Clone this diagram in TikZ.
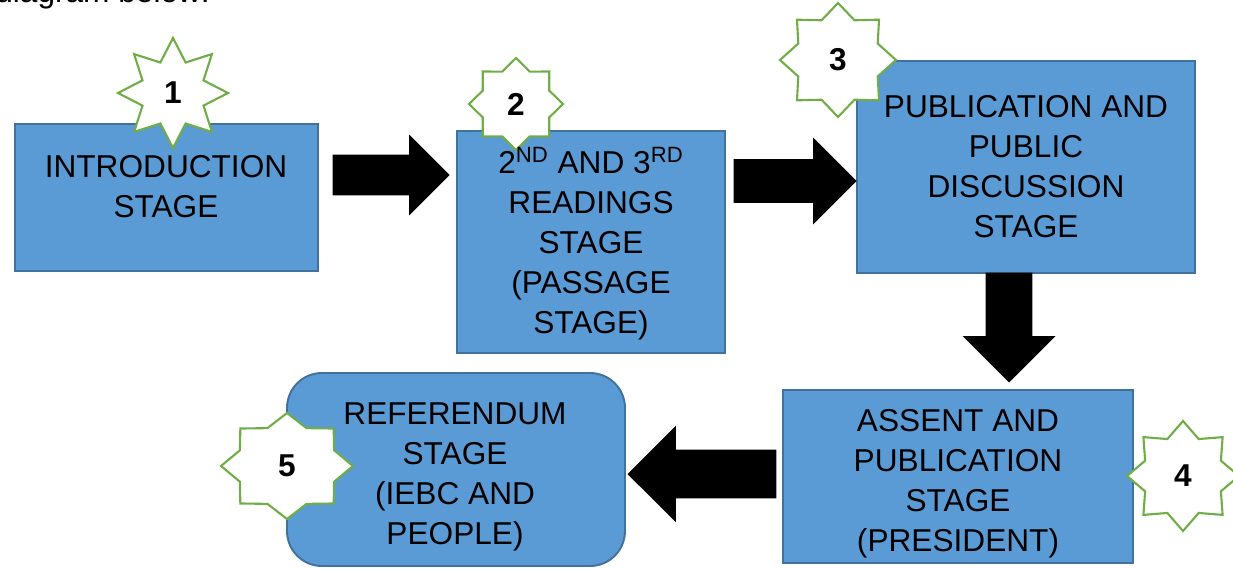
\documentclass[tikz,border=0pt]{standalone}
\usepackage{fontspec}
\setmainfont{Liberation Sans}
\usetikzlibrary{shapes.arrows,fit}
\definecolor{stageblue}{HTML}{5B9BD5}
\definecolor{stageline}{HTML}{41719C}
\definecolor{stargreen}{HTML}{70AD47}

\begin{document}
\begin{tikzpicture}[x=0.02cm, y=-0.02cm,
    stagebox/.style={draw=stageline, fill=stageblue, line width=1.1pt, inner sep=0pt},
    stagetext/.style={align=center, inner sep=0pt, font=\fontsize{18}{22.8}\selectfont},
    starline/.style={draw=stargreen, fill=white, line width=1.2pt},
    starnum/.style={inner sep=0pt, font=\fontsize{18}{22}\selectfont\bfseries},
    blockarrow/.style 2 args={single arrow, fill=black, inner sep=#1,
        single arrow head extend=#1, minimum height=#2, anchor=tip}]
    \useasboundingbox (0,0) rectangle (1233,568);
    % the stage boxes
    \node[stagebox, fit={(15,124) (318,271)}] (b1) {};
    \node[stagebox, fit={(457,131) (725,353)}] (b2) {};
    \node[stagebox, fit={(857,61) (1195,273)}] (b3) {};
    \node[stagebox, fit={(783,390) (1133,563)}] (b4) {};
    \node[stagebox, rounded corners=0.7cm, fit={(287,373) (625,566)}] (b5) {};
    % numbered stars
    \coordinate (c1) at (173,93);
    \coordinate (c2) at (516,104);
    \coordinate (c3) at (838,60);
    \coordinate (c4) at (1183,476);
    \coordinate (c5) at (287,466);
    \draw[starline, shift={(c1)}] (90:55 and 55)
        \foreach \a in {90,135,...,360} {-- (\a+22.5:33 and 33) -- (\a+45:55 and 55)}
        -- (427.5:33 and 33) -- cycle;
    \draw[starline, shift={(c2)}] (90:47 and 46)
        \foreach \a in {90,135,...,360} {-- (\a+22.5:36 and 35) -- (\a+45:47 and 46)}
        -- (427.5:36 and 35) -- cycle;
    \draw[starline, shift={(c3)}] (90:58 and 57)
        \foreach \a in {90,135,...,360} {-- (\a+22.5:43 and 43) -- (\a+45:58 and 57)}
        -- (427.5:43 and 43) -- cycle;
    \draw[starline, shift={(c4)}] (90:56 and 55)
        \foreach \a in {90,135,...,360} {-- (\a+22.5:41 and 40) -- (\a+45:56 and 55)}
        -- (427.5:41 and 40) -- cycle;
    \draw[starline, shift={(c5)}] (90:66 and 53)
        \foreach \a in {90,135,...,360} {-- (\a+22.5:51 and 41) -- (\a+45:66 and 53)}
        -- (427.5:51 and 41) -- cycle;
    \node[starnum] (n1) at (c1) {1};
    \node[starnum] (n2) at (c2) {2};
    \node[starnum] (n3) at (c3) {3};
    \node[starnum] (n4) at (c4) {4};
    \node[starnum] (n5) at (c5) {5};
    % texts
    \node[stagetext, anchor=base west] (intro) at (-5,3) {diagram below:};
    \node[stagetext] (t1) at (166,187) {INTRODUCTION\\STAGE};
    \node[stagetext] (t2) at (591,244) {2\textsuperscript{ND} AND 3\textsuperscript{RD}\\READINGS\\STAGE\\(PASSAGE\\STAGE)};
    \node[stagetext] (t3) at (1026,167) {PUBLICATION AND\\PUBLIC\\DISCUSSION\\STAGE};
    \node[stagetext] (t4) at (958,484) {ASSENT AND\\PUBLICATION\\STAGE\\(PRESIDENT)};
    \node[stagetext] (t5) at (455,477) {REFERENDUM\\STAGE\\(IEBC AND\\PEOPLE)};
    % block arrows between stages
    \node[blockarrow={0.4cm}{2.34cm}] (a12) at (450,175) {};
    \node[blockarrow={0.43cm}{2.46cm}] (a23) at (857,181) {};
    \node[blockarrow={0.46cm}{2.2cm}, shape border rotate=270] (a34) at (1009,383) {};
    \node[blockarrow={0.48cm}{2.98cm}, shape border rotate=180] (a45) at (627,474) {};
\end{tikzpicture}
\end{document}
